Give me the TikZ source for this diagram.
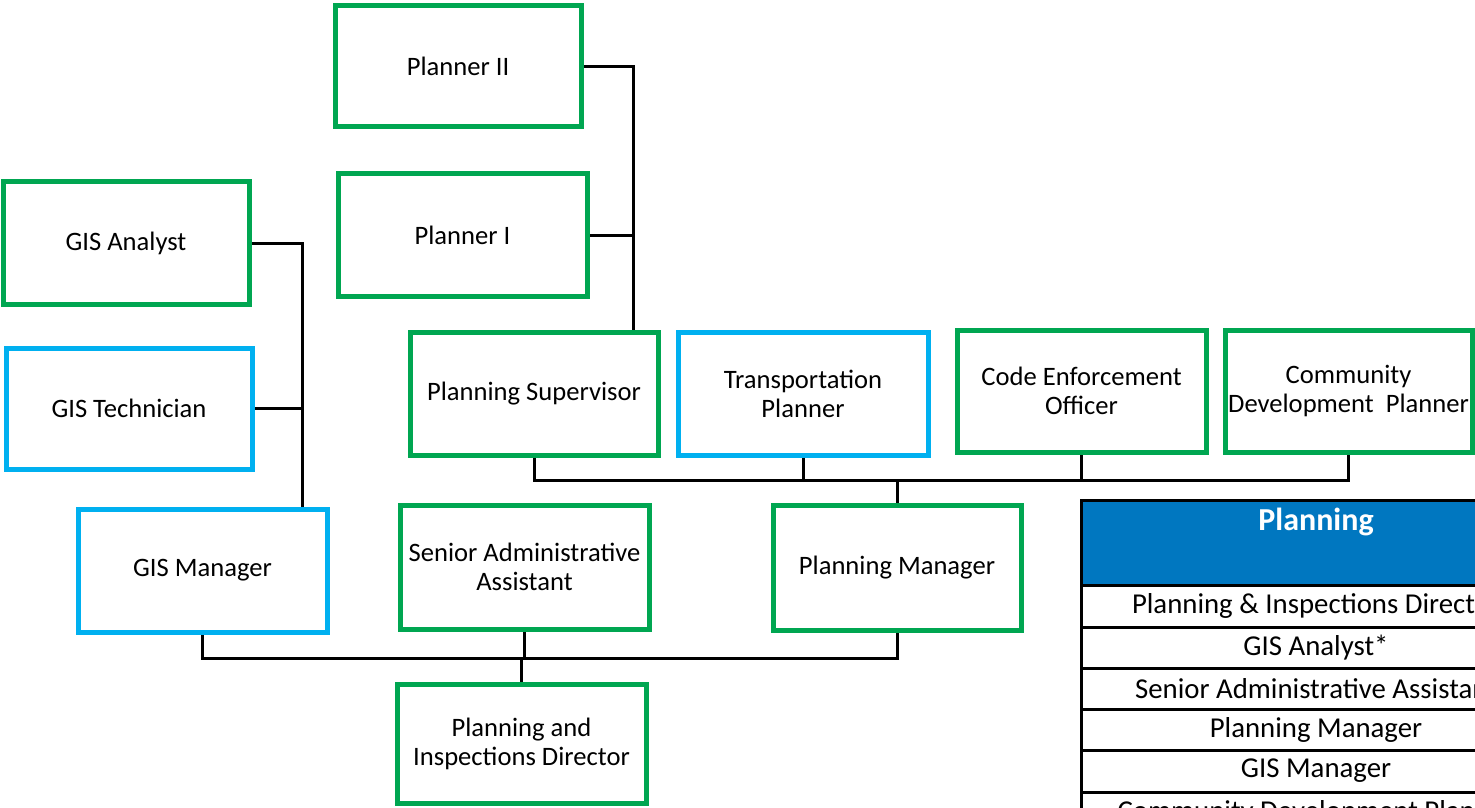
\documentclass[tikz,border=0pt]{standalone}
\usepackage{fontspec}
\setmainfont{Carlito}
\usetikzlibrary{backgrounds}
\definecolor{orgGreen}{HTML}{00A651}
\definecolor{orgBlue}{HTML}{00B0F0}
\definecolor{headBlue}{HTML}{0077C0}
\begin{document}
\begin{tikzpicture}[x=0.5pt,y=-0.5pt,
  post/.style={draw, line width=2.5pt, fill=white, align=center, inner sep=0pt,
    minimum width=124pt, minimum height=61pt,
    font=\fontsize{13.3}{14.5}\selectfont},
  gpost/.style={post, draw=orgGreen},
  bpost/.style={post, draw=orgBlue},
  link/.style={draw=black, line width=1.5pt},
  cell/.style={inner sep=0pt, font=\fontsize{14.4}{16}\selectfont},
  rule/.style={draw=black, line width=1.5pt}
]
\clip (0,0) rectangle (1475,807);

% positions
\node[gpost, minimum width=123pt, minimum height=60.5pt] (p2)   at (458,66.5)   {Planner II};
\node[gpost, minimum width=124.5pt, minimum height=61.5pt] (p1) at (462.5,235.5) {Planner I};
\node[gpost, minimum width=123pt, minimum height=61.5pt] (gisa) at (126,243.5)  {GIS Analyst};
\node[bpost, minimum width=123pt, minimum height=60.5pt] (gist) at (129,408.5)  {GIS Technician};
\node[bpost, minimum width=124.5pt, minimum height=61.5pt] (gism) at (202.5,570.5) {GIS Manager};
\node[gpost, minimum width=124.5pt, minimum height=62pt] (saa)  at (524.5,567)  {Senior Administrative\\Assistant};
\node[gpost, minimum width=124pt, minimum height=62.5pt] (pm)   at (897,567.5)  {Planning Manager};
\node[gpost, minimum width=124.5pt, minimum height=59.5pt] (pid) at (521.5,743.5) {Planning and\\Inspections Director};
\node[gpost, minimum width=124pt, minimum height=61.5pt] (ps)   at (534,393.5)  {Planning Supervisor};
\node[bpost, minimum width=125pt, minimum height=61.5pt] (tp)   at (803,393.5)  {Transportation\\Planner};
\node[gpost, minimum width=124.5pt, minimum height=61pt] (ceo)  at (1081.5,391) {Code Enforcement\\Officer};
\node[gpost, minimum width=123.5pt, minimum height=61pt] (cdp)  at (1348.5,391) {Community\\Development\ \ Planner};

% trunk and bus lines
\coordinate (ptrunk) at (633,0);
\coordinate (gtrunk) at (302,0);
\coordinate (topbus) at (0,480);
\coordinate (lowbus) at (0,658);

\begin{scope}[on background layer]
  \fill[white] (0,0) rectangle (1475,807);
  \draw[link] (p2.east) -| (ps.north -| ptrunk);
  \draw[link] (p1.east) -- (p1.east -| ptrunk);
  \draw[link] (gisa.east) -| (gism.north -| gtrunk);
  \draw[link] (gist.east) -- (gist.east -| gtrunk);
  \draw[link] (ps.south) |- (cdp.south |- topbus) -- (cdp.south);
  \draw[link] (tp.south) -- (tp.south |- topbus);
  \draw[link] (ceo.south) -- (ceo.south |- topbus);
  \draw[link] (pm.north) -- (pm.north |- topbus);
  \draw[link] (gism.south) |- (pm.south |- lowbus) -- (pm.south);
  \draw[link] (saa.south) -- (saa.south |- lowbus);
  \draw[link] (pid.north) -- (pid.north |- lowbus);
\end{scope}

% staffing table
\fill[headBlue] (1081,500) rectangle (1551,585);
\draw[rule] (1081,500) rectangle (1551,834);
\foreach \y in {585,627,668,709,750,792} \draw[rule] (1081,\y) -- (1551,\y);
\node[inner sep=0pt, text=white, font=\fontsize{16}{18}\bfseries] (thead) at (1316,522) {Planning};
\node[cell] (r1) at (1316,606)   {Planning \& Inspections Director};
\node[cell] (r2) at (1316,647.5) {GIS Analyst*};
\node[cell] (r3) at (1316,688.5) {Senior Administrative Assistant};
\node[cell] (r4) at (1316,729.5) {Planning Manager};
\node[cell] (r5) at (1316,771)   {GIS Manager};
\node[cell] (r6) at (1316,812.5) {Community Development Planner};
\end{tikzpicture}
\end{document}
